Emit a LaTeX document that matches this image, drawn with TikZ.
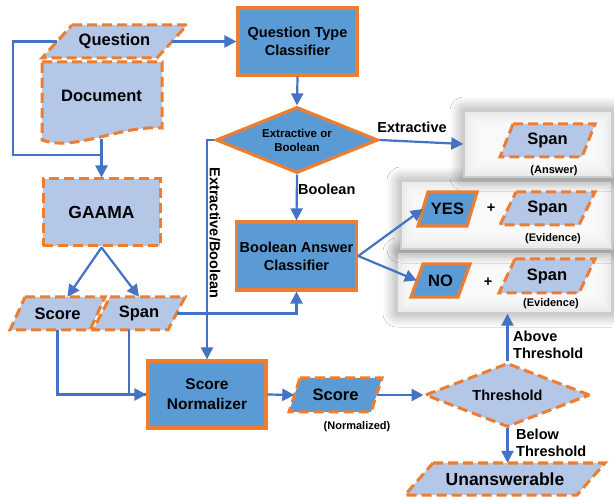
\documentclass[tikz,border=0pt]{standalone}
\usepackage{fontspec}
\setmainfont{Liberation Sans}
\usetikzlibrary{arrows.meta,shapes.geometric,shadows.blur,calc}
\definecolor{lightf}{HTML}{B4C7E7}
\definecolor{midf}{HTML}{5B9BD5}
\definecolor{orng}{HTML}{ED7D31}
\definecolor{arrb}{HTML}{4472C4}
\tikzset{
 dashbd/.style={draw=orng, line width=3pt, dash pattern=on 10pt off 5pt},
 solidbd/.style={draw=orng, line width=3.2pt},
 lightshape/.style={fill=lightf, dashbd},
 darkdash/.style={fill=midf, dashbd},
 darkshape/.style={fill=midf, solidbd},
 arr/.style={draw=arrb, line width=2.2pt, -{Triangle[length=12pt,width=12pt]}},
 ln/.style={draw=arrb, line width=2.2pt},
 big/.style={font=\fontsize{16.5}{19}\bfseries\selectfont},
 huge/.style={font=\fontsize{17.5}{20}\bfseries\selectfont},
 mid/.style={font=\fontsize{14.5}{18}\bfseries\selectfont},
 small/.style={font=\fontsize{11.5}{14}\bfseries\selectfont},
 tiny/.style={font=\fontsize{11}{13}\bfseries\selectfont},
 grayboxst/.style={fill=gray!16, draw=gray!40, line width=1.4pt, inner sep=0pt,
   blur shadow={shadow xshift=0pt, shadow yshift=0pt, shadow blur radius=14pt, shadow blur steps=12, shadow opacity=45}},
}
% #1 style #2 name #3 x1 #4 x2 #5 ytop #6 ybot #7 slant #8 font style #9 text
\newcommand{\paral}[9]{%
 \path[#1] ({#3+#7},#5) -- (#4,#5) -- ({#4-#7},#6) -- (#3,#6) -- cycle;
 \node[#8, inner sep=0pt, minimum width={#4pt-#3pt-#7pt}, minimum height={#6pt-#5pt}] (#2) at ({(#3+#4)/2},{(#5+#6)/2}) {#9};
}
% #1 name #2 x1 #3 y1 #4 x2 #5 y2
\newcommand{\grayregion}[5]{%
 \node[grayboxst, minimum width={#4pt-#2pt}, minimum height={#5pt-#3pt}] (#1) at ({(#2+#4)/2},{(#3+#5)/2}) {};
 \foreach \k in {1,...,7} \fill[white, opacity=0.22] ({#2+2+2*\k},{#3+2+2*\k}) rectangle ({#4-2-2*\k},{#5-2-2*\k});
}
\begin{document}
\begin{tikzpicture}[x=1pt,y=-1pt]
\useasboundingbox (0,0) rectangle (614,497);
\fill[white] (0,0) rectangle (614,497);

% gray result boxes
\grayregion{box3}{397}{252}{612}{313}
\grayregion{box2}{401}{181}{612}{249}
\grayregion{box1}{464}{111}{612}{177}

% inputs
\paral{lightshape}{q}{42}{187}{25}{58}{30}{big}{Question}
\path[lightshape] (42,62) -- (162,62) -- (162,128) .. controls (120,125) and (75,152) .. (42,140) -- cycle;
\node[big, inner sep=0pt, minimum width=120pt, minimum height=86pt] (doc) at (101.5,96) {Document};
\node[lightshape, minimum width=117pt, minimum height=67pt, huge] (gaama) at (101.5,212.5) {GAAMA};
\paral{lightshape}{scoreL}{10}{105}{297}{330}{15}{big}{Score}
\paral{lightshape}{spanL}{93}{185}{297}{330}{17}{big}{Span}

% classifiers
\node[darkshape, minimum width=119pt, minimum height=67pt, mid, align=center] (qtc) at (297.5,41.5) {Question Type\\Classifier};
\node[diamond, darkshape, aspect=2.45, minimum width=162pt, minimum height=66pt, inner sep=0pt, align=center, small] (ext) at (297,140) {Extractive or\\Boolean};
\node[darkshape, minimum width=119pt, minimum height=68pt, mid, align=center] (bac) at (296.5,256) {Boolean Answer\\Classifier};
\node[darkshape, minimum width=118pt, minimum height=67pt, align=center, font=\fontsize{15.5}{20}\bfseries\selectfont] (sn) at (207,394.5) {Score\\Normalizer};

% outputs
\paral{lightshape}{spanA}{500}{595}{124}{157}{13}{big}{Span}
\paral{darkshape}{yes}{418}{477}{192}{226}{10}{big}{YES}
\paral{lightshape}{spanE1}{500}{595}{192}{225}{16}{big}{Span}
\paral{darkshape}{no}{411}{470}{264}{297}{12}{big}{NO}
\paral{lightshape}{spanE2}{499}{595}{259}{293}{16}{big}{Span}
\paral{darkdash}{scoreN}{289}{382}{378}{412}{11}{big}{Score}
\node[diamond, lightshape, aspect=2.6, minimum width=165pt, minimum height=64pt, inner sep=0pt, mid] (thr) at (507.5,395) {Threshold};
\paral{lightshape}{un}{405}{605}{463}{495}{28}{huge}{Unanswerable}

% small labels
\node[tiny] (lans) at (554,171) {(Answer)};
\node[tiny] (lev1) at (553,239) {(Evidence)};
\node[tiny] (lev2) at (551,304) {(Evidence)};
\node[tiny] (lnorm) at (357,427) {(Normalized)};
\node[mid] (plus1) at (491,208) {+};
\node[mid] (plus2) at (488,282) {+};

% connectors
\coordinate (fbj) at (101.5,155);
\draw[ln] (q.west) -- (13,41.5) |- (fbj);
\draw[arr] (doc.south) -- (gaama.north);
\draw[arr] (q.east) -- (qtc.west);
\draw[arr] (gaama.south) -- ([xshift=10pt]scoreL.north);
\draw[arr] (gaama.south) -- (spanL.north);
\draw[arr] (qtc.south) -- (ext.north);
\draw[arr] (ext.south) -- (bac.north);
\node[mid, anchor=west, inner sep=0pt] (lbool) at (298,189) {Boolean};
\draw[arr] (ext.east) -- (box1.west);
\node[mid, inner sep=0pt] (lext) at (412,127) {Extractive};
\draw[arr] (ext.west) -| (sn.north);
\node[mid, rotate=-90, inner sep=0pt] (lexb) at (215,233) {Extractive/Boolean};
\draw[arr] (bac.east) -- (yes.west);
\draw[arr] (bac.east) -- (no.west);
\draw[arr] (spanL.east) -| (bac.south);
\draw[ln] ([xshift=-10pt]spanL.south) |- (sn.west);
\draw[arr] (scoreL.south) |- (sn.west);
\draw[arr] (sn.east) -- (scoreN.west);
\draw[arr] (scoreN.east) -- (thr.west);
\draw[arr] (thr.north) -- (thr.north |- box3.south);
\draw[arr] (thr.south) -- (thr.south |- un.north);
\node[align=left, anchor=west, inner sep=0pt, font=\fontsize{14.5}{17}\bfseries\selectfont] (labove) at (513,345) {Above\\Threshold};
\node[align=left, anchor=west, inner sep=0pt, font=\fontsize{14.5}{17}\bfseries\selectfont] (lbelow) at (516,443) {Below\\Threshold};
\end{tikzpicture}
\end{document}
